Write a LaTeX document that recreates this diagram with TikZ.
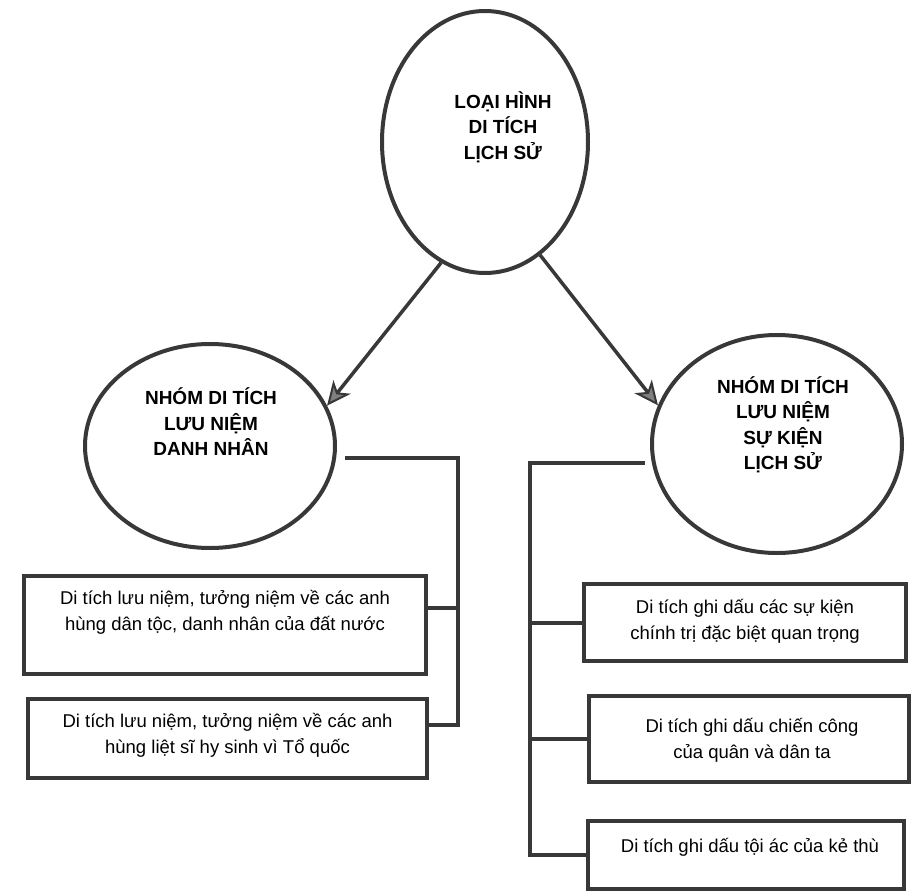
\documentclass[tikz,border=0pt]{standalone}
\usepackage{fontspec}
\setmainfont{Liberation Sans}
\usetikzlibrary{shapes.geometric,arrows.meta}
\begin{document}
\begin{tikzpicture}[x=1pt,y=-1pt,
  ink/.style={draw=black!78, line width=4pt},
  oval/.style={ink, ellipse, inner sep=0pt},
  ovaltext/.style={font=\fontsize{19}{25.5}\selectfont\bfseries, align=center, inner sep=0pt},
  frame/.style={ink, rectangle, inner sep=0pt},
  boxtext/.style={font=\fontsize{18.5}{26}\selectfont, align=center, inner sep=0pt},
  link/.style={ink, line cap=rect},
  pointer/.style={draw=black!78, line width=3.5pt,
    -{Stealth[length=24pt,width=22pt,inset=7pt,line width=2pt,fill=black!50]}}
]
\useasboundingbox (0,0) rectangle (914,894);

% main category
\node[oval, minimum width=206pt, minimum height=262pt] (top) at (485,142) {};
\node[ovaltext] (toptext) at (503,127) {LOẠI HÌNH\\DI TÍCH\\LỊCH SỬ};

% the two groups
\node[oval, minimum width=250pt, minimum height=204pt] (left) at (210,446) {};
\node[ovaltext] (lefttext) at (211,422) {NHÓM DI TÍCH\\LƯU NIỆM\\DANH NHÂN};

\node[oval, minimum width=250pt, minimum height=218pt] (right) at (777,444) {};
\node[ovaltext] (righttext) at (783,425) {NHÓM DI TÍCH\\LƯU NIỆM\\SỰ KIỆN\\LỊCH SỬ};

\draw[pointer] (top.250.9) -- (left.19.9);
\draw[pointer] (top.296.4) -- (right.162.9);

% boxes under the first group
\node[frame, minimum width=402pt, minimum height=98pt] (b1) at (225,625) {};
\node[boxtext] (b1t) at (225,612) {Di tích lưu niệm, tưởng niệm về các anh\\hùng dân tộc, danh nhân của đất nước};
\node[frame, minimum width=399pt, minimum height=79pt] (b2) at (227.5,738.5) {};
\node[boxtext] (b2t) at (227.5,735) {Di tích lưu niệm, tưởng niệm về các anh\\hùng liệt sĩ hy sinh vì Tổ quốc};

% boxes under the second group
\node[frame, minimum width=322pt, minimum height=77pt] (b3) at (745,622.5) {};
\node[boxtext] (b3t) at (745,621) {Di tích ghi dấu các sự kiện\\chính trị đặc biệt quan trọng};
\node[frame, minimum width=320pt, minimum height=86pt] (b4) at (749,739) {};
\node[boxtext] (b4t) at (752,740) {Di tích ghi dấu chiến công\\của quân và dân ta};
\node[frame, minimum width=316pt, minimum height=68pt] (b5) at (746,855) {};
\node[boxtext] (b5t) at (750,847) {Di tích ghi dấu tội ác của kẻ thù};

% left bracket
\coordinate (lstart) at (347,458);
\coordinate (lcorner) at (458,458);
\coordinate (lj1) at (458,608);
\coordinate (lj2) at (458,725);
\draw[link] (lstart) -- (lcorner) -- (lj2) -- (lj2 -| b2.east);
\draw[link] (lj1) -- (lj1 -| b1.east);

% right bracket
\coordinate (rstart) at (643,463);
\coordinate (rcorner) at (530,463);
\coordinate (rend) at (530,855);
\draw[link] (rstart) -- (rcorner) -- (rend) -- (b5.west);
\draw[link] (rcorner |- b3.west) -- (b3.west);
\draw[link] (rcorner |- b4.west) -- (b4.west);
\end{tikzpicture}
\end{document}
